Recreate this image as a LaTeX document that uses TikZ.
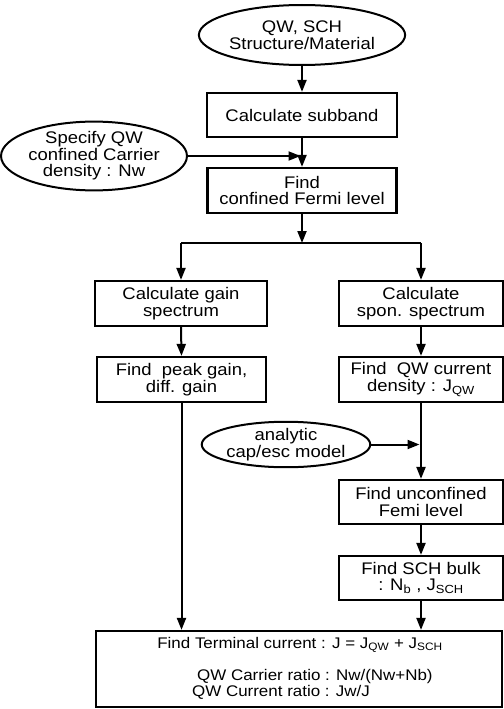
\documentclass[tikz,border=0pt]{standalone}
\usepackage{fontspec}
\setmainfont{Liberation Sans}[FakeStretch=1.1]
\usetikzlibrary{arrows.meta,shapes.geometric}
\newcommand\dgfont{\fontsize{16.8}{16.5}\selectfont}
\newcommand\dgsmall{\fontsize{15.4}{15}\selectfont}
\begin{document}
\begin{tikzpicture}[x=1pt,y=-1pt,
  box/.style={draw,line width=2.2pt,rectangle,inner sep=0pt,align=center,font=\dgfont},
  ov/.style={draw,line width=2pt,ellipse,inner sep=0pt,align=center,font=\dgfont},
  arr/.style={line width=2pt,-{Triangle[length=12pt,width=9pt]}},
  ln/.style={line width=2pt},
  txt/.style={inner sep=0pt,font=\dgsmall}]
\useasboundingbox (0,0) rectangle (503,709);
% nodes
\node[ov,minimum width=190pt,minimum height=60pt] (e1) at (302,35) {QW, SCH\\Structure/Material};
\node[box,minimum width=190pt,minimum height=44pt] (b1) at (302,115) {Calculate subband};
\node[ov,minimum width=172pt,minimum height=56pt] (e2) at (94,156) {Specify QW\\confined Carrier\\density : Nw};
\node[box,minimum width=189pt,minimum height=45pt] (b2) at (302,190.5) {Find\\confined Fermi level};
\coordinate (j) at (302,243);
\node[box,minimum width=172pt,minimum height=45pt] (b3) at (181,303.5) {Calculate gain\\spectrum};
\node[box,minimum width=164pt,minimum height=45pt] (b4) at (421,303.5) {Calculate\\spon. spectrum};
\node[box,minimum width=169pt,minimum height=45pt] (b5) at (181.5,379.5) {Find\ \ peak gain,\\diff. gain};
\node[box,minimum width=164pt,minimum height=45pt] (b6) at (421,379.5) {Find\ \ QW current\\density : J\textsubscript{QW}};
\node[ov,minimum width=154pt,minimum height=45pt] (e3) at (286,444.5) {analytic\\cap/esc model};
\node[box,minimum width=164pt,minimum height=44pt] (b7) at (421,502) {Find unconfined\\Femi level};
\node[box,minimum width=164pt,minimum height=44pt] (b8) at (421,578) {Find SCH bulk\\: N\textsubscript{b} , J\textsubscript{SCH}};
\node[box,minimum width=406pt,minimum height=76pt] (b9) at (299,669) {};
\node[txt] (t1) at (300,645) {Find Terminal current : J = J\textsubscript{QW} + J\textsubscript{SCH}};
\node[txt,anchor=west] (t2) at (197,677) {QW Carrier ratio : Nw/(Nw+Nb)};
\node[txt,anchor=west] (t3) at (192,692) {QW Current ratio : Jw/J};
% connectors
\draw[arr] (e1.south) -- (b1.north);
\draw[arr] (b1.south) -- (b2.north);
\draw[arr,shorten >=1.5pt] (e2.east) -- (e2.east -| b1.south);
\draw[arr] (b2.south) -- (j);
\draw[ln] (b3.north |- j) -- (b4.north |- j);
\draw[arr] (b3.north |- j) -- (b3.north);
\draw[arr] (b4.north |- j) -- (b4.north);
\draw[arr] (b3.south) -- (b5.south |- b5.north);
\draw[arr] (b4.south) -- (b6.north);
\draw[arr] (b5.south) -- (b5.south |- b9.north);
\draw[arr] (b6.south) -- (b7.north);
\draw[arr,shorten >=1.5pt] (e3.east) -- (e3.east -| b6.south);
\draw[arr] (b7.south) -- (b8.north);
\draw[arr] (b8.south) -- (b8.south |- b9.north);
\end{tikzpicture}
\end{document}
